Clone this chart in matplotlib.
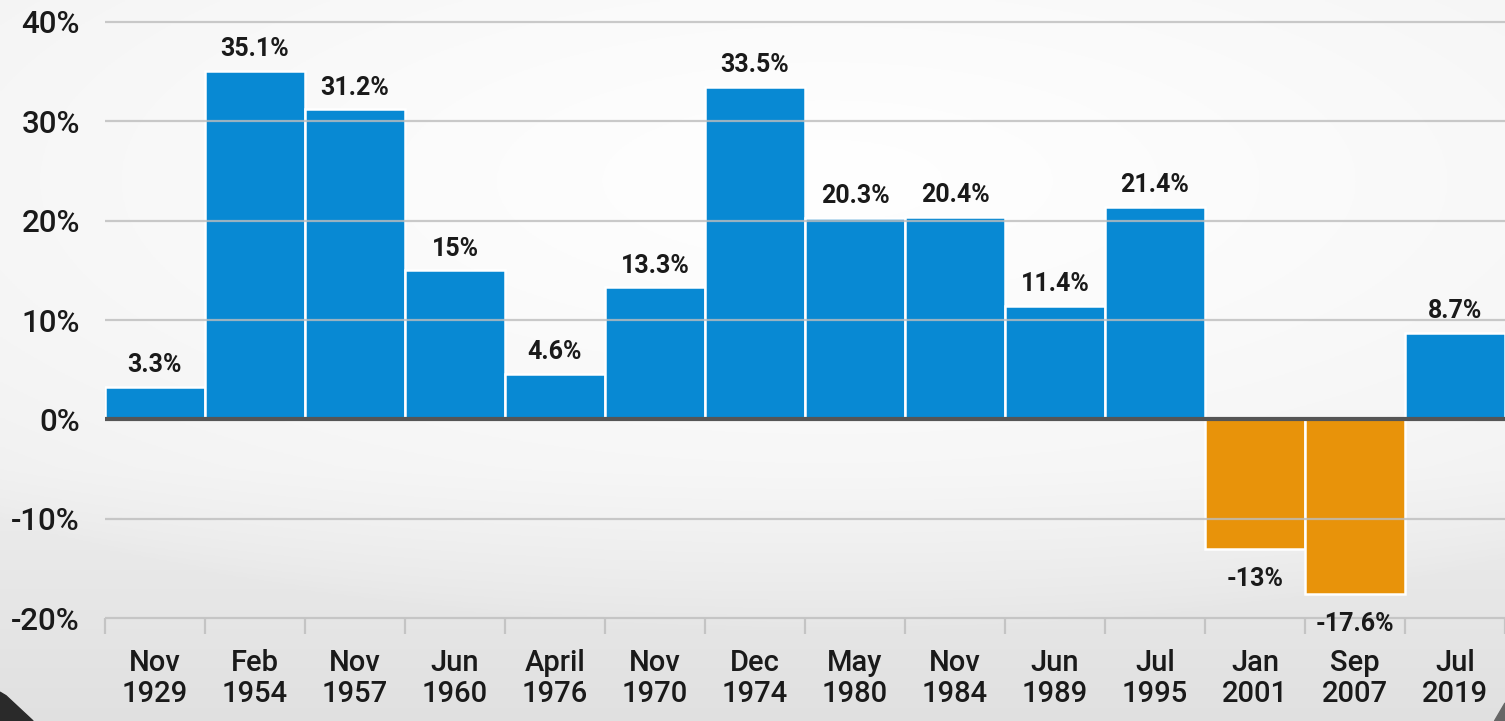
import numpy as np
import matplotlib
matplotlib.use("Agg")
import matplotlib.pyplot as plt
from matplotlib.patches import Polygon

# data
months = ["Nov", "Feb", "Nov", "Jun", "April", "Nov", "Dec",
          "May", "Nov", "Jun", "Jul", "Jan", "Sep", "Jul"]
years = ["1929", "1954", "1957", "1960", "1976", "1970", "1974",
         "1980", "1984", "1989", "1995", "2001", "2007", "2019"]
returns = [3.3, 35.1, 31.2, 15, 4.6, 13.3, 33.5,
           20.3, 20.4, 11.4, 21.4, -13, -17.6, 8.7]
labels = ["3.3%", "35.1%", "31.2%", "15%", "4.6%", "13.3%", "33.5%",
          "20.3%", "20.4%", "11.4%", "21.4%", "-13%", "-17.6%", "8.7%"]
yticks = [-20, -10, 0, 10, 20, 30, 40]

plt.rcParams['font.family'] = ['Roboto', 'DejaVu Sans']

BLUE = "#0889d3"
ORANGE = "#e8930a"

fig = plt.figure(figsize=(15.05, 7.21), dpi=100)

# soft grey background gradient behind everything
bg = fig.add_axes([0, 0, 1, 1], zorder=-10)
yy, xx = np.mgrid[0:1:300j, 0:1:600j]
shade = 0.93 + 0.07 * np.clip(1 - np.hypot((xx - 0.55) * 1.2, (yy - 0.75) * 1.6), 0, 1) ** 0.6
shade = np.clip(shade - 0.05 * np.clip(0.35 - yy, 0, 1) / 0.35, 0, 1)
bg.imshow(np.dstack([shade, shade, shade]), extent=[0, 1, 0, 1], origin="lower", aspect="auto")
bg.add_patch(Polygon([[0, 0], [0.022, 0], [0.004, 0.035], [0, 0.04]], closed=True, color="#2a2a2a"))
bg.add_patch(Polygon([[1, 0], [0.993, 0], [1, 0.025]], closed=True, color="#666666"))
bg.axis("off")

ax = fig.add_axes([105 / 1505, 1 - 635 / 721, 1 - 105 / 1505, (635 - 12) / 721])
ax.patch.set_alpha(0)

x = np.arange(len(returns))
colors = [BLUE if v >= 0 else ORANGE for v in returns]
ax.bar(x, returns, width=1.0, color=colors, edgecolor="white", linewidth=1.8, zorder=2)

for yv in yticks:
    if yv == 0:
        ax.axhline(0, color="#555555", lw=3, zorder=4)
    else:
        ax.axhline(yv, color="#bdbdbd", lw=1.6, alpha=0.8, zorder=3)

# little tick marks under the -20% gridline
ax.vlines(np.arange(len(returns) + 1) - 0.5, -21.6, -20, color="#c4c4c4", lw=1.6,
          zorder=3, clip_on=False)

for xi, v, lab in zip(x, returns, labels):
    if v >= 0:
        ax.annotate(lab, (xi, v), xytext=(0, 7), textcoords="offset points",
                    ha="center", va="bottom", fontsize=18, fontweight="bold", color="#1a1a1a")
    else:
        ax.annotate(lab, (xi, v), xytext=(0, -13), textcoords="offset points",
                    ha="center", va="top", fontsize=18, fontweight="bold", color="#1a1a1a")

ax.set_xlim(-0.5, len(returns) - 0.5)
ax.set_ylim(-21.7, 41)
ax.set_yticks(yticks)
ax.set_yticklabels([f"{t}%" for t in yticks])
ax.set_xticks(x)
ax.set_xticklabels([f"{m}\n{y}" for m, y in zip(months, years)], linespacing=1.12)
ax.tick_params(axis="y", length=0, pad=18, labelsize=22.5, labelcolor="#1a1a1a")
ax.tick_params(axis="x", length=0, pad=10, labelsize=21, labelcolor="#1a1a1a")
for lab in ax.get_xticklabels() + ax.get_yticklabels():
    lab.set_fontweight("medium")
for s in ax.spines.values():
    s.set_visible(False)

fig.savefig("out.png", dpi=100)
